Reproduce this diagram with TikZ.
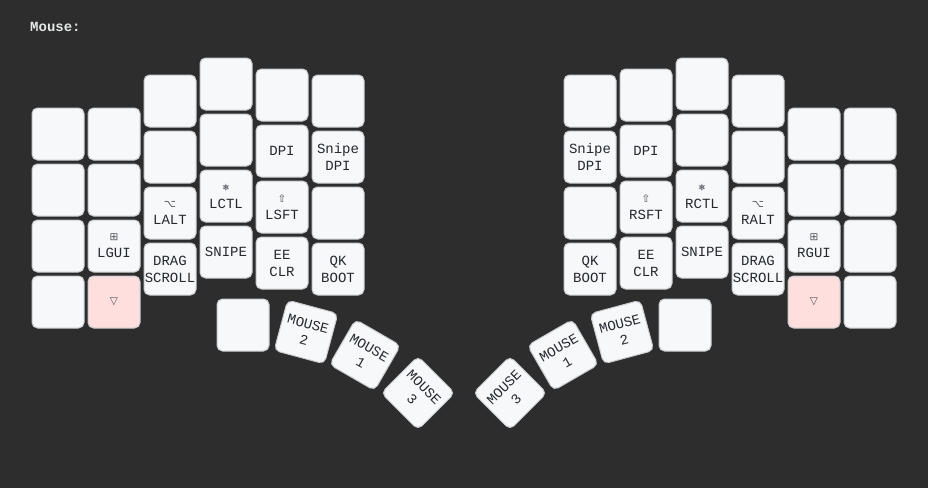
\documentclass[tikz,border=0pt]{standalone}
\usepackage{fontspec}
\setmonofont{Liberation Mono}
\newfontfamily\symfont{DejaVu Sans}
\newfontfamily\helmfont{DejaVu Sans Mono}
\definecolor{bgc}{HTML}{2D2D2D}
\definecolor{keyfill}{HTML}{F6F8FA}
\definecolor{keyline}{HTML}{C9CCCF}
\definecolor{keytext}{HTML}{24292E}
\definecolor{heldfill}{HTML}{FFDEDE}
\definecolor{titlec}{HTML}{E4EAEA}
\definecolor{symc}{HTML}{50555C}
\tikzset{
  keybox/.style={draw=keyline, fill=keyfill, line width=1pt, rounded corners=5.5pt,
    minimum width=52pt, minimum height=52pt, inner sep=0pt, align=center,
    text=keytext, font=\ttfamily\fontsize{14}{17}\selectfont},
  heldbox/.style={keybox, fill=heldfill},
}
\newcommand{\sym}[1]{{\symfont\fontsize{10.5}{17}\selectfont\color{symc}#1}}
\newcommand{\helm}{{\helmfont\fontsize{12}{17}\selectfont\color{symc}⎈}}
\begin{document}
\begin{tikzpicture}[x=1pt,y=-1pt]
\useasboundingbox (0,0) rectangle (928,488);
\fill[bgc] (0,0) rectangle (928,488);
\node[anchor=west, text=titlec, font=\ttfamily\bfseries\fontsize{14}{17}\selectfont, inner sep=0pt] (title) at (30,27) {Mouse:};
% ---------- left half ----------
\node[keybox] (la1) at (58,134) {};
\node[keybox] (la2) at (58,190) {};
\node[keybox] (la3) at (58,246) {};
\node[keybox] (la4) at (58,302) {};
\node[keybox] (lb1) at (114,134) {};
\node[keybox] (lb2) at (114,190) {};
\node[keybox] (lb3) at (114,246) {\sym{⊞}\\LGUI};
\node[heldbox] (lb4) at (114,302) {\sym{▽}};
\node[keybox] (lc1) at (170,101) {};
\node[keybox] (lc2) at (170,157) {};
\node[keybox] (lc3) at (170,213) {\sym{⌥}\\LALT};
\node[keybox] (lc4) at (170,269) {DRAG\\SCROLL};
\node[keybox] (ld1) at (226,84) {};
\node[keybox] (ld2) at (226,140) {};
\node[keybox] (ld3) at (226,196) {\helm\\LCTL};
\node[keybox] (ld4) at (226,252) {SNIPE};
\node[keybox] (le1) at (282,95) {};
\node[keybox] (le2) at (282,151) {DPI};
\node[keybox] (le3) at (282,207) {\sym{⇧}\\LSFT};
\node[keybox] (le4) at (282,263) {EE\\CLR};
\node[keybox] (lf1) at (338,101) {};
\node[keybox] (lf2) at (338,157) {Snipe\\DPI};
\node[keybox] (lf3) at (338,213) {};
\node[keybox] (lf4) at (338,269) {QK\\BOOT};
\node[keybox] (lt1) at (243,325) {};
\node[keybox, rotate=-15] (lt2) at (306,332) {MOUSE\\2};
\node[keybox, rotate=-30] (lt3) at (365,355) {MOUSE\\1};
\node[keybox, rotate=-45] (lt4) at (418,393) {MOUSE\\3};
% ---------- right half ----------
\node[keybox] (ra1) at (870,134) {};
\node[keybox] (ra2) at (870,190) {};
\node[keybox] (ra3) at (870,246) {};
\node[keybox] (ra4) at (870,302) {};
\node[keybox] (rb1) at (814,134) {};
\node[keybox] (rb2) at (814,190) {};
\node[keybox] (rb3) at (814,246) {\sym{⊞}\\RGUI};
\node[heldbox] (rb4) at (814,302) {\sym{▽}};
\node[keybox] (rc1) at (758,101) {};
\node[keybox] (rc2) at (758,157) {};
\node[keybox] (rc3) at (758,213) {\sym{⌥}\\RALT};
\node[keybox] (rc4) at (758,269) {DRAG\\SCROLL};
\node[keybox] (rd1) at (702,84) {};
\node[keybox] (rd2) at (702,140) {};
\node[keybox] (rd3) at (702,196) {\helm\\RCTL};
\node[keybox] (rd4) at (702,252) {SNIPE};
\node[keybox] (re1) at (646,95) {};
\node[keybox] (re2) at (646,151) {DPI};
\node[keybox] (re3) at (646,207) {\sym{⇧}\\RSFT};
\node[keybox] (re4) at (646,263) {EE\\CLR};
\node[keybox] (rf1) at (590,101) {};
\node[keybox] (rf2) at (590,157) {Snipe\\DPI};
\node[keybox] (rf3) at (590,213) {};
\node[keybox] (rf4) at (590,269) {QK\\BOOT};
\node[keybox] (rt1) at (685,325) {};
\node[keybox, rotate=15] (rt2) at (622,332) {MOUSE\\2};
\node[keybox, rotate=30] (rt3) at (563,355) {MOUSE\\1};
\node[keybox, rotate=45] (rt4) at (510,393) {MOUSE\\3};
\end{tikzpicture}
\end{document}
